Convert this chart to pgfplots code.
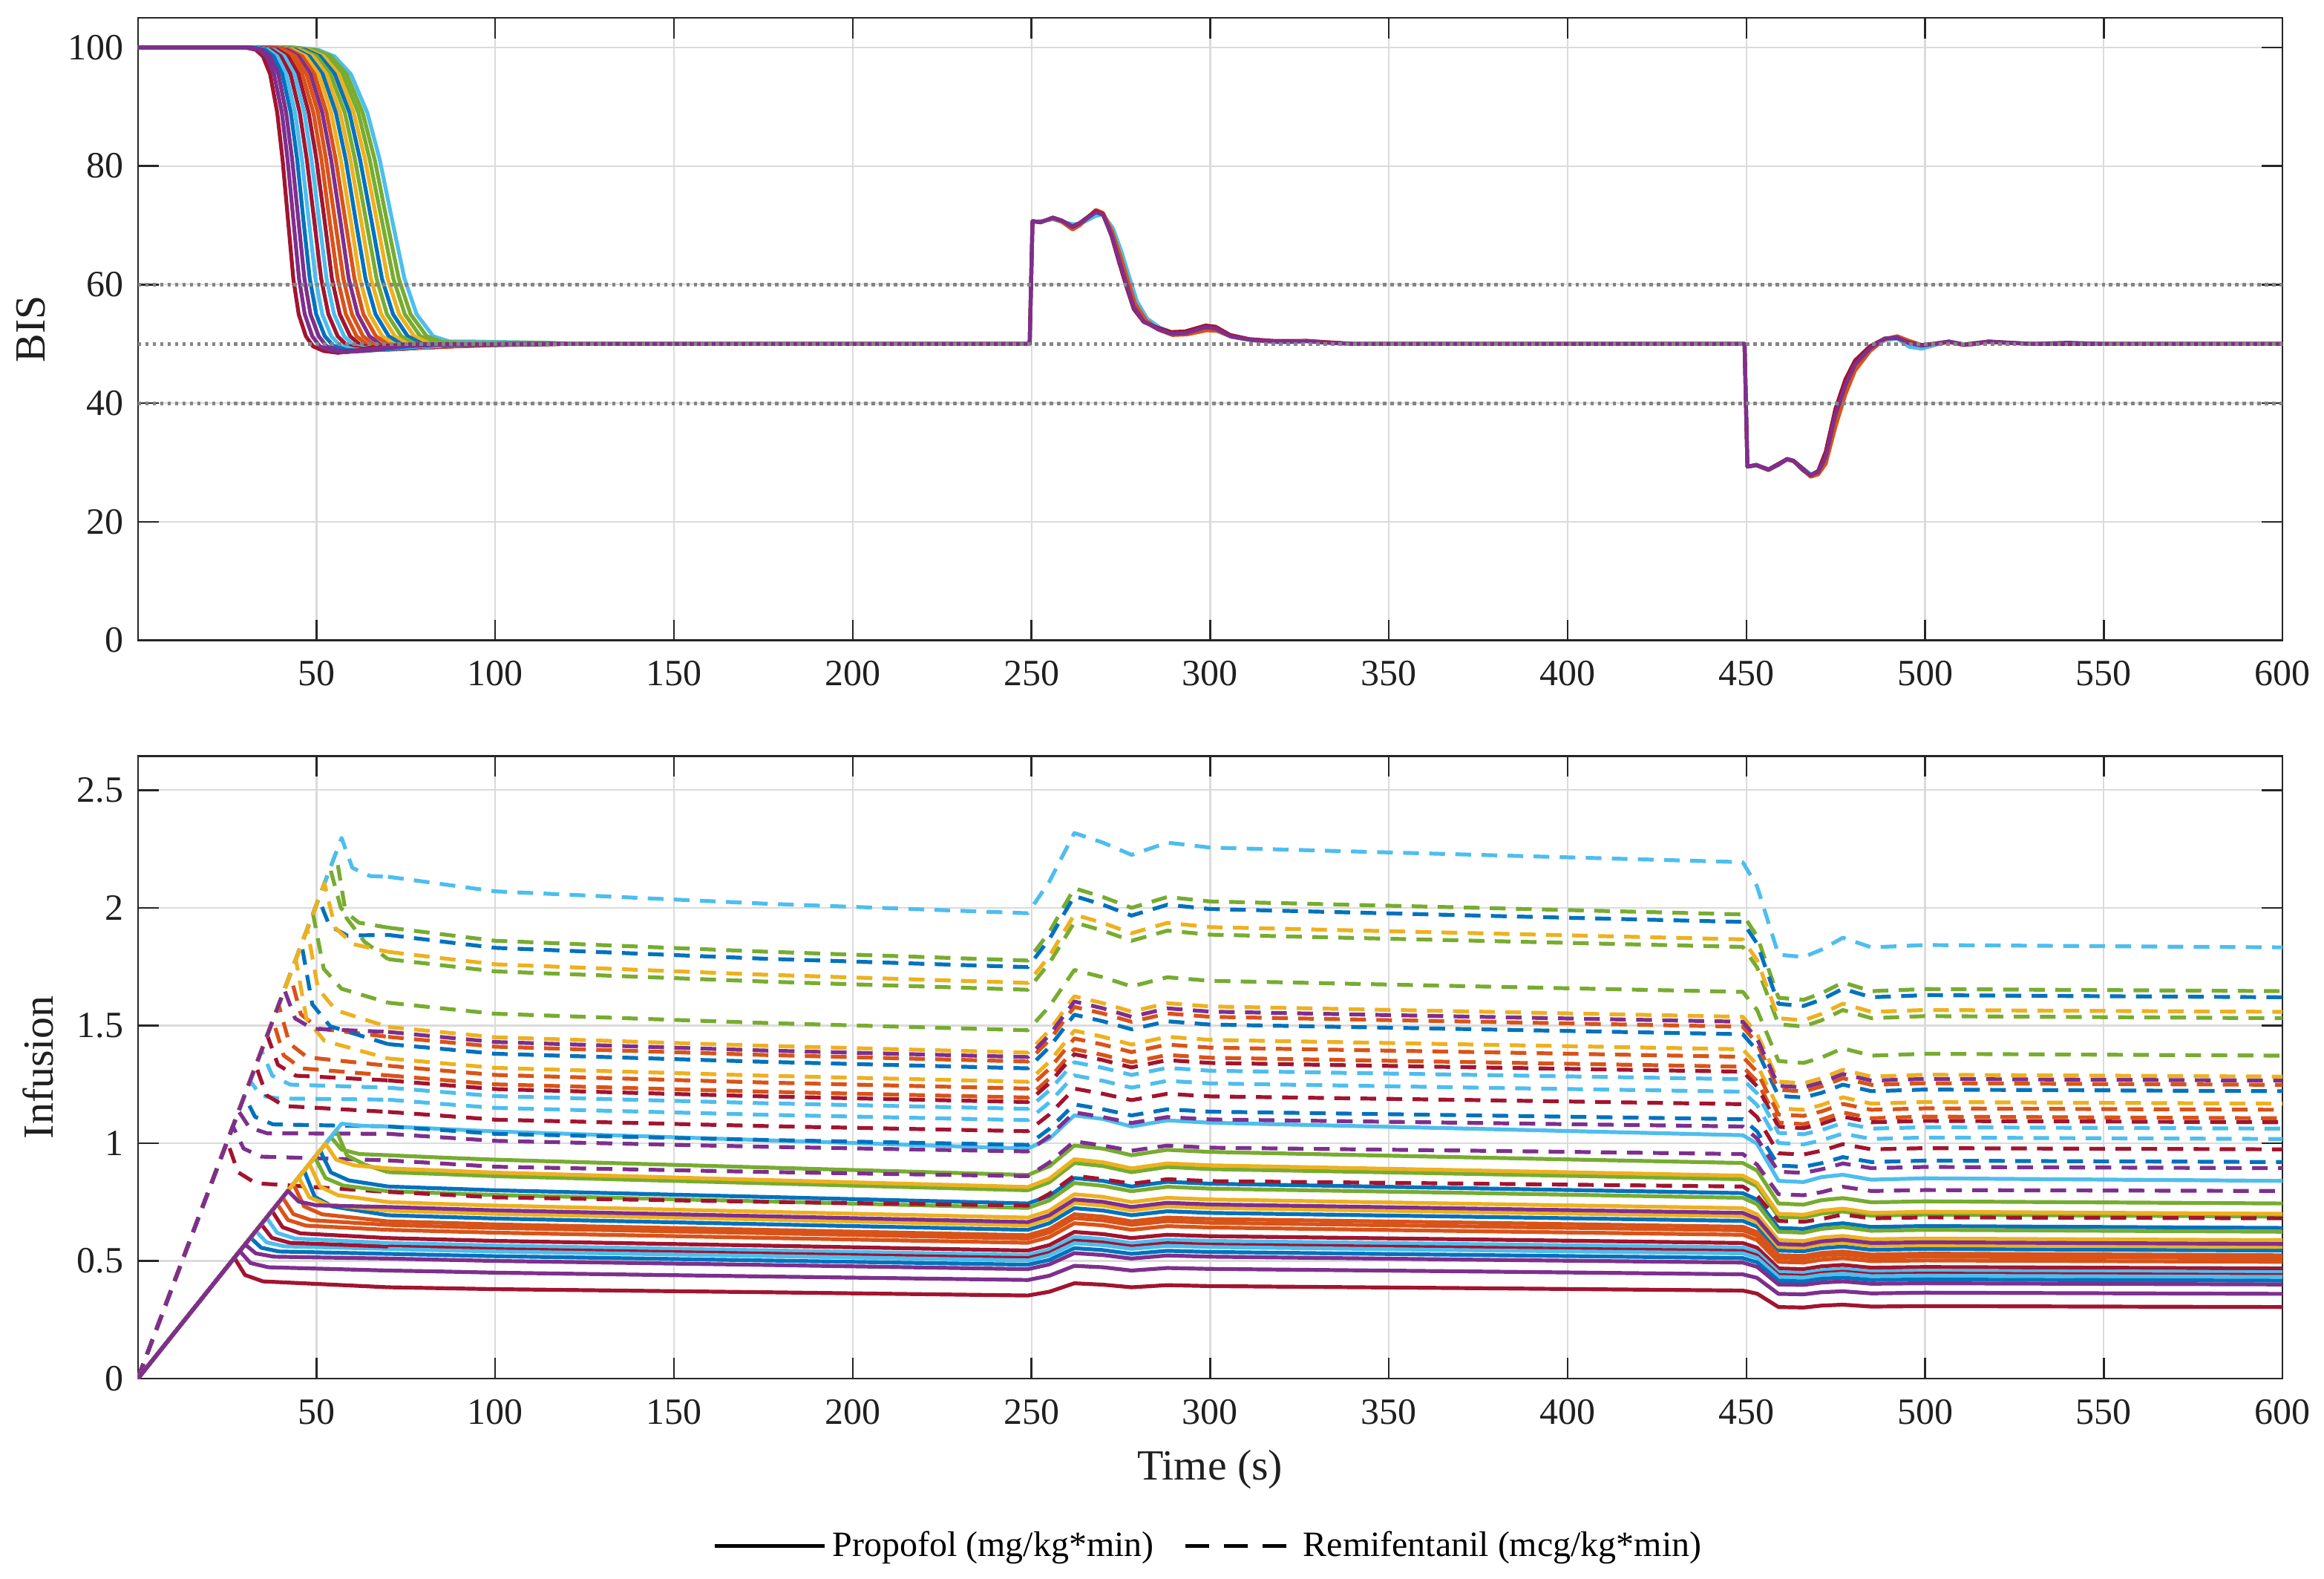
\documentclass[border=0pt]{standalone}
\usepackage{fontspec}
\setmainfont{Liberation Serif}
\usepackage{pgfplots}
\usepackage{pgfplotstable}
\pgfplotsset{compat=1.18}
\definecolor{mblue}{RGB}{0,114,189}
\definecolor{morange}{RGB}{217,83,25}
\definecolor{myellow}{RGB}{237,177,32}
\definecolor{mpurple}{RGB}{126,47,142}
\definecolor{mgreen}{RGB}{119,172,48}
\definecolor{mlblue}{RGB}{77,190,238}
\definecolor{mdred}{RGB}{162,20,47}
\colorlet{c1}{mdred}\colorlet{c2}{mpurple}\colorlet{c3}{mpurple}\colorlet{c4}{mblue}
\colorlet{c5}{mlblue}\colorlet{c6}{mdred}\colorlet{c7}{mlblue}\colorlet{c8}{mdred}
\colorlet{c9}{morange}\colorlet{c10}{morange}\colorlet{c11}{mpurple}\colorlet{c12}{morange}
\colorlet{c13}{myellow}\colorlet{c14}{mblue}\colorlet{c15}{myellow}\colorlet{c16}{mgreen}
\colorlet{c17}{mblue}\colorlet{c18}{myellow}\colorlet{c19}{mgreen}\colorlet{c20}{mgreen}
\colorlet{c21}{mlblue}

\pgfplotstableread{
t p1 p2 p3 p4 p5 p6 p7 p8 p9 p10 p11 p12 p13 p14 p15 p16 p17 p18 p19 p20 p21
70 0.388 0.459 0.510 0.530 0.551 0.561 0.576 0.597 0.632 0.653 0.729 0.668 0.714 0.694 0.750 0.796 0.816 0.893 0.949 0.877 1.071
85 0.384 0.455 0.505 0.525 0.545 0.556 0.571 0.591 0.626 0.646 0.722 0.662 0.707 0.687 0.742 0.788 0.808 0.884 0.939 0.869 1.061
100 0.380 0.450 0.500 0.520 0.540 0.550 0.565 0.585 0.620 0.640 0.715 0.655 0.700 0.680 0.735 0.780 0.800 0.875 0.930 0.860 1.050
175 0.367 0.434 0.483 0.502 0.521 0.531 0.545 0.565 0.598 0.618 0.690 0.632 0.676 0.656 0.709 0.753 0.772 0.844 0.897 0.830 1.013
249 0.353 0.419 0.465 0.484 0.502 0.512 0.525 0.544 0.577 0.595 0.665 0.609 0.651 0.632 0.684 0.725 0.744 0.814 0.865 0.800 0.977
255 0.369 0.437 0.485 0.504 0.524 0.534 0.548 0.567 0.601 0.621 0.694 0.635 0.679 0.660 0.713 0.757 0.776 0.849 0.902 0.834 1.019
262 0.405 0.479 0.533 0.554 0.575 0.586 0.602 0.623 0.660 0.682 0.761 0.698 0.746 0.724 0.783 0.831 0.852 0.932 0.990 0.916 1.118
270 0.399 0.473 0.525 0.546 0.567 0.578 0.593 0.614 0.651 0.672 0.751 0.688 0.735 0.714 0.772 0.819 0.840 0.919 0.977 0.903 1.103
278 0.388 0.459 0.510 0.530 0.551 0.561 0.576 0.597 0.632 0.653 0.729 0.668 0.714 0.694 0.750 0.796 0.816 0.893 0.949 0.877 1.071
288 0.397 0.470 0.523 0.543 0.564 0.575 0.590 0.611 0.648 0.669 0.747 0.684 0.732 0.711 0.768 0.815 0.836 0.914 0.972 0.899 1.097
300 0.393 0.466 0.518 0.538 0.559 0.569 0.585 0.605 0.642 0.662 0.740 0.678 0.725 0.704 0.761 0.807 0.828 0.906 0.963 0.890 1.087
375 0.384 0.455 0.505 0.525 0.545 0.556 0.571 0.591 0.626 0.646 0.722 0.662 0.707 0.687 0.742 0.788 0.808 0.884 0.939 0.869 1.061
449 0.374 0.443 0.493 0.512 0.532 0.542 0.557 0.576 0.611 0.630 0.704 0.645 0.690 0.670 0.724 0.768 0.788 0.862 0.916 0.847 1.034
453 0.361 0.428 0.475 0.494 0.513 0.523 0.537 0.556 0.589 0.608 0.679 0.622 0.665 0.646 0.698 0.741 0.760 0.831 0.884 0.817 0.998
459 0.304 0.360 0.400 0.416 0.432 0.440 0.452 0.468 0.496 0.512 0.572 0.524 0.560 0.544 0.588 0.624 0.640 0.700 0.744 0.688 0.840
466 0.302 0.358 0.398 0.413 0.429 0.437 0.449 0.465 0.493 0.509 0.568 0.521 0.557 0.541 0.584 0.620 0.636 0.696 0.739 0.684 0.835
471 0.310 0.367 0.408 0.424 0.440 0.448 0.460 0.477 0.505 0.522 0.583 0.534 0.571 0.554 0.599 0.636 0.652 0.713 0.758 0.701 0.856
477 0.314 0.371 0.413 0.429 0.446 0.454 0.466 0.483 0.512 0.528 0.590 0.540 0.578 0.561 0.606 0.644 0.660 0.722 0.767 0.710 0.866
485 0.306 0.362 0.403 0.419 0.435 0.443 0.455 0.471 0.499 0.515 0.576 0.527 0.564 0.547 0.592 0.628 0.644 0.704 0.749 0.692 0.845
500 0.308 0.365 0.405 0.421 0.437 0.446 0.458 0.474 0.502 0.518 0.579 0.531 0.567 0.551 0.595 0.632 0.648 0.709 0.753 0.697 0.851
600 0.304 0.360 0.400 0.416 0.432 0.440 0.452 0.468 0.496 0.512 0.572 0.524 0.560 0.544 0.588 0.624 0.640 0.700 0.744 0.688 0.840
}\prop

\pgfplotstableread{
t r1 r2 r3 r4 r5 r6 r7 r8 r9 r10 r11 r12 r13 r14 r15 r16 r17 r18 r19 r20 r21
70 0.793 0.927 1.040 1.071 1.185 1.133 1.236 1.267 1.288 1.329 1.473 1.452 1.360 1.421 1.494 1.597 1.885 1.813 1.916 1.782 2.132
85 0.782 0.914 1.025 1.056 1.167 1.117 1.218 1.248 1.269 1.309 1.451 1.431 1.340 1.401 1.472 1.573 1.857 1.786 1.888 1.756 2.101
100 0.770 0.900 1.010 1.040 1.150 1.100 1.200 1.230 1.250 1.290 1.430 1.410 1.320 1.380 1.450 1.550 1.830 1.760 1.860 1.730 2.070
175 0.751 0.878 0.985 1.014 1.121 1.073 1.170 1.199 1.219 1.258 1.394 1.375 1.287 1.346 1.414 1.511 1.784 1.716 1.814 1.687 2.018
249 0.735 0.860 0.965 0.993 1.098 1.051 1.146 1.175 1.194 1.232 1.366 1.347 1.261 1.318 1.385 1.480 1.748 1.681 1.776 1.652 1.977
255 0.785 0.918 1.030 1.061 1.173 1.122 1.224 1.255 1.275 1.316 1.459 1.438 1.346 1.408 1.479 1.581 1.867 1.795 1.897 1.765 2.111
262 0.862 1.008 1.131 1.165 1.288 1.232 1.344 1.378 1.400 1.445 1.602 1.579 1.478 1.546 1.624 1.736 2.050 1.971 2.083 1.938 2.318
270 0.847 0.990 1.111 1.144 1.265 1.210 1.320 1.353 1.375 1.419 1.573 1.551 1.452 1.518 1.595 1.705 2.013 1.936 2.046 1.903 2.277
278 0.828 0.968 1.086 1.118 1.236 1.183 1.290 1.322 1.344 1.387 1.537 1.516 1.419 1.484 1.559 1.666 1.967 1.892 2.000 1.860 2.225
288 0.847 0.990 1.111 1.144 1.265 1.210 1.320 1.353 1.375 1.419 1.573 1.551 1.452 1.518 1.595 1.705 2.013 1.936 2.046 1.903 2.277
300 0.839 0.981 1.101 1.134 1.254 1.199 1.308 1.341 1.363 1.406 1.559 1.537 1.439 1.504 1.581 1.690 1.995 1.918 2.027 1.886 2.256
375 0.828 0.968 1.086 1.118 1.236 1.183 1.290 1.322 1.344 1.387 1.537 1.516 1.419 1.484 1.559 1.666 1.967 1.892 2.000 1.860 2.225
449 0.816 0.954 1.071 1.102 1.219 1.166 1.272 1.304 1.325 1.367 1.516 1.495 1.399 1.463 1.537 1.643 1.940 1.866 1.972 1.834 2.194
453 0.778 0.909 1.020 1.050 1.162 1.111 1.212 1.242 1.263 1.303 1.444 1.424 1.333 1.394 1.465 1.566 1.848 1.778 1.879 1.747 2.091
459 0.670 0.783 0.879 0.905 1.001 0.957 1.044 1.070 1.088 1.122 1.244 1.227 1.148 1.201 1.262 1.349 1.592 1.531 1.618 1.505 1.801
466 0.666 0.779 0.874 0.900 0.995 0.952 1.038 1.064 1.081 1.116 1.237 1.220 1.142 1.194 1.254 1.341 1.583 1.522 1.609 1.496 1.791
471 0.678 0.792 0.889 0.915 1.012 0.968 1.056 1.082 1.100 1.135 1.258 1.241 1.162 1.214 1.276 1.364 1.610 1.549 1.637 1.522 1.822
477 0.697 0.815 0.914 0.941 1.041 0.996 1.086 1.113 1.131 1.167 1.294 1.276 1.195 1.249 1.312 1.403 1.656 1.593 1.683 1.566 1.873
485 0.681 0.797 0.894 0.920 1.018 0.974 1.062 1.089 1.106 1.142 1.266 1.248 1.168 1.221 1.283 1.372 1.620 1.558 1.646 1.531 1.832
500 0.685 0.801 0.899 0.926 1.024 0.979 1.068 1.095 1.113 1.148 1.273 1.255 1.175 1.228 1.291 1.380 1.629 1.566 1.655 1.540 1.842
600 0.681 0.797 0.894 0.920 1.018 0.974 1.062 1.089 1.106 1.142 1.266 1.248 1.168 1.221 1.283 1.372 1.620 1.558 1.646 1.531 1.832
}\remi

\pgfplotsset{
  common/.style={
    width=723.5pt, height=210pt, scale only axis,
    xmin=0, xmax=600, xtick={50,100,...,600},
    grid=major, major grid style={black!14, line width=0.55pt},
    axis line style={black!85, line width=0.6pt},
    tick style={black!85, line width=0.6pt},
    major tick length=7pt, tick align=inside,
    xtick pos=both, ytick pos=both,
    tick label style={font=\fontsize{12.5}{15}\selectfont, text=black!88},
    /pgf/number format/assume math mode=true,
    xticklabel shift=3.5pt, yticklabel shift=1.3pt,
    label style={font=\fontsize{14.5}{17}\selectfont, text=black!88},
  },
  pl/.style={forget plot, line width=1.3pt, line join=round},
  dsh/.style={dash pattern=on 5.3pt off 3.5pt},
  refl/.style={forget plot, black!48, line width=1.2pt, dash pattern=on 1.2pt off 1.3pt},
}

\begin{document}
\begin{tikzpicture}
% ---------------- TOP: BIS ----------------
\begin{axis}[common, at={(0,0)}, anchor=south west,
  ymin=0, ymax=105, ytick={0,20,...,100},
  ylabel={BIS}, ylabel style={at={(axis description cs:-0.0435,0.5)}, anchor=base},
]
\addplot[pl,c21] coordinates {(0,100)(43.5,100)(50.4,99.6)(55,98.5)(59.6,95.5)(64.2,89)(67.7,81)(71.1,71)(74.6,61)(78,55)(82.6,51.3)(87.2,50.4)(94.1,50.4)(103.3,50.3)(114.8,50.2)(120,50)};
\addplot[pl,c20] coordinates {(0,100)(42.8,100)(49.5,99.6)(54,98.5)(58.4,95.5)(62.9,89)(66.3,81)(69.6,71)(73,61)(76.3,55)(80.8,51.3)(85.3,50.3)(92,50.2)(100.9,50.2)(112.1,50.2)(120,50)};
\addplot[pl,c19] coordinates {(0,100)(42.2,100)(48.7,99.6)(53,98.5)(57.3,95.5)(61.7,89)(64.9,81)(68.2,71)(71.5,61)(74.7,55)(79,51.3)(83.4,50.2)(89.9,50.1)(98.6,50.1)(109.4,50.1)(120,50)};
\addplot[pl,c18] coordinates {(0,100)(41.5,100)(47.8,99.6)(52,98.5)(56.2,95.5)(60.4,89)(63.6,81)(66.8,71)(69.9,61)(73.1,55)(77.3,51.3)(81.5,50.1)(87.8,50)(96.2,50)(106.8,50)(120,50)};
\addplot[pl,c17] coordinates {(0,100)(40.8,100)(46.9,99.6)(51,98.5)(55.1,95.5)(59.2,89)(62.2,81)(65.3,71)(68.3,61)(71.4,55)(75.5,51.3)(79.6,50)(85.7,50)(93.8,49.9)(104,50)(120,50)};
\addplot[pl,c16] coordinates {(0,100)(40.1,100)(46,99.6)(50,98.5)(53.9,95.5)(57.9,89)(60.8,81)(63.8,71)(66.8,61)(69.7,55)(73.7,51.3)(77.6,50)(83.5,49.9)(91.5,49.85)(101.3,49.9)(113.2,50)(120,50)};
\addplot[pl,c15] coordinates {(0,100)(39.5,100)(45.2,99.6)(49,98.5)(52.8,95.5)(56.6,89)(59.5,81)(62.4,71)(65.2,61)(68.1,55)(71.9,51.3)(75.7,49.9)(81.5,49.8)(89.1,49.8)(98.7,49.8)(110.1,49.9)(120,50)};
\addplot[pl,c14] coordinates {(0,100)(38.8,100)(44.3,99.6)(48,98.5)(51.7,95.5)(55.4,89)(58.2,81)(60.9,71)(63.7,61)(66.5,55)(70.2,51.3)(73.9,49.9)(79.4,49.7)(86.8,49.7)(96,49.8)(107.1,49.9)(120,50)};
\addplot[pl,c13] coordinates {(0,100)(38.1,100)(43.4,99.6)(47,98.5)(50.6,95.5)(54.1,89)(56.8,81)(59.5,71)(62.1,61)(64.8,55)(68.4,51.3)(71.9,49.9)(77.3,49.7)(84.4,49.6)(93.3,49.7)(104,49.9)(120,50)};
\addplot[pl,c12] coordinates {(0,100)(37.4,100)(42.5,99.6)(46,98.5)(49.4,95.5)(52.8,89)(55.4,81)(58,71)(60.6,61)(63.1,55)(66.6,51.3)(70,49.9)(75.1,49.6)(82,49.5)(90.6,49.6)(100.9,49.8)(120,50)};
\addplot[pl,c11] coordinates {(0,100)(36.8,100)(41.7,99.6)(45,98.5)(48.3,95.5)(51.6,89)(54.1,81)(56.6,71)(59,61)(61.5,55)(64.8,51.3)(68.1,49.8)(73.1,49.5)(79.7,49.4)(87.9,49.6)(97.8,49.8)(120,50)};
\addplot[pl,c10] coordinates {(0,100)(36.1,100)(40.9,99.6)(44,98.5)(47.2,95.5)(50.4,89)(52.7,81)(55.1,71)(57.5,61)(59.9,55)(63,51.3)(66.2,49.8)(71,49.4)(77.3,49.3)(85.2,49.5)(94.7,49.8)(107.4,50)(120,50)};
\addplot[pl,c9] coordinates {(0,100)(35.4,100)(40,99.6)(43,98.5)(46,95.5)(49.1,89)(51.4,81)(53.6,71)(55.9,61)(58.2,55)(61.2,51.3)(64.3,49.8)(68.8,49.4)(74.9,49.2)(82.5,49.4)(91.6,49.7)(103.8,49.9)(120,50)};
\addplot[pl,c8] coordinates {(0,100)(34.7,100)(39.1,99.6)(42,98.5)(44.9,95.5)(47.8,89)(50,81)(52.2,71)(54.3,61)(56.5,55)(59.4,51.3)(62.3,49.8)(66.7,49.3)(72.5,49.1)(79.8,49.4)(88.5,49.7)(100.2,49.9)(120,50)};
\addplot[pl,c7] coordinates {(0,100)(34.1,100)(38.2,99.6)(41,98.5)(43.8,95.5)(46.6,89)(48.6,81)(50.7,71)(52.8,61)(54.9,55)(57.7,51.3)(60.5,49.7)(64.6,49.2)(70.2,49)(77.1,49.3)(85.5,49.7)(96.6,49.9)(120,50)};
\addplot[pl,c6] coordinates {(0,100)(33.4,100)(37.4,99.6)(40,98.5)(42.7,95.5)(45.3,89)(47.3,81)(49.3,71)(51.3,61)(53.3,55)(55.9,51.3)(58.6,49.7)(62.6,49.2)(67.9,49)(74.5,49.2)(82.4,49.7)(93,49.9)(120,50)};
\addplot[pl,c5] coordinates {(0,100)(32.7,100)(36.5,99.6)(39,98.5)(41.5,95.5)(44,89)(45.9,81)(47.8,71)(49.7,61)(51.6,55)(54.1,51.3)(56.6,49.7)(60.4,49.1)(65.5,48.9)(71.8,49.2)(79.3,49.6)(89.4,49.9)(120,50)};
\addplot[pl,c4] coordinates {(0,100)(32,100)(35.6,99.6)(38,98.5)(40.4,95.5)(42.8,89)(44.6,81)(46.3,71)(48.1,61)(49.9,55)(52.3,51.3)(54.7,49.7)(58.3,49)(63.1,48.8)(69,49.1)(76.2,49.6)(85.8,49.9)(120,50)};
\addplot[pl,c3] coordinates {(0,100)(31.4,100)(34.7,99.6)(37,98.5)(39.3,95.5)(41.5,89)(43.2,81)(44.9,71)(46.6,61)(48.3,55)(50.6,51.3)(52.8,49.6)(56.2,48.9)(60.7,48.7)(66.4,49)(73.2,49.6)(82.2,49.9)(120,50)};
\addplot[pl,c1] coordinates {(0,100)(30,100)(33,99.6)(35,98.5)(37,95.5)(39,89)(40.5,81)(42,71)(43.5,61)(45,55)(47,51.3)(49,49.6)(52,48.8)(56,48.5)(61,48.9)(67,49.5)(75,49.9)(120,50)};
\addplot[pl,c2] coordinates {(0,100)(30.7,100)(33.9,99.6)(36,98.5)(38.1,95.5)(40.3,89)(41.9,81)(43.5,71)(45.1,61)(46.7,55)(48.8,51.3)(50.9,49.6)(54.1,48.9)(58.4,48.6)(63.7,49)(70.1,49.5)(78.6,49.9)(120,50)};
% later phase
\addplot[pl,mlblue] coordinates {(120,50)(249.5,50)(250.3,70.6)(252.5,70.7)(256,71.0)(258.5,70.6)(261.5,70.2)(263.5,70.2)(268,71.6)(270,71.8)(272.8,69.5)(275.2,65.5)(277.4,61.2)(279.5,57.2)(282.3,54.3)(286,52.7)(290,51.8)(294,51.9)(299,52.4)(302,52.2)(306,51.2)(312,50.6)(319,50.3)(327,50.4)(340,50)(449.5,50)(450.3,29.3)(452.8,29.5)(456.2,28.9)(461.4,30.5)(463.2,30.3)(468,28.0)(470.1,28.5)(472.2,31.0)(474.9,38.3)(477.7,43.4)(480.4,46.8)(484.6,49.3)(488.7,50.6)(492.2,50.9)(495.6,49.5)(499.1,49.2)(503.3,49.9)(506.7,50.4)(510.8,49.9)(517.8,50.4)(530,50)(600,50)};
\addplot[pl,morange] coordinates {(120,50)(249.5,50)(250.3,70.7)(252.5,70.5)(256,71.2)(258.5,70.6)(261.5,69.3)(263.5,70.0)(268,72.6)(270,72.1)(272.6,68.9)(275,64.6)(277,60.6)(279,56.8)(282,54.0)(285.5,52.4)(289.5,51.5)(293.5,51.6)(299,52.3)(302,52.2)(306,51.2)(312,50.6)(319,50.3)(327,50.5)(340,50)(449.5,50)(450.3,29.3)(452.8,29.5)(456.2,28.7)(461.4,30.5)(463.2,30.2)(468,27.6)(470.1,28.0)(472.2,29.8)(474.9,36)(477.7,41.5)(480.4,45.5)(484.6,48.8)(488.7,50.8)(492.2,51.3)(495.6,50.5)(499.1,49.8)(503.3,50.0)(506.7,50.3)(510.8,49.8)(517.8,50.3)(530,50)(600,50)};
\addplot[pl,mdred] coordinates {(120,50)(249.5,50)(250.3,70.7)(252.5,70.5)(256,71.3)(258.5,70.8)(261.5,69.8)(263.5,70.4)(268,72.4)(270,71.9)(272.4,68.2)(274.5,63.8)(276.6,59.6)(278.6,55.9)(281.4,53.7)(285,52.8)(289,52.0)(293,52.1)(298.7,53.1)(301.5,52.9)(305.6,51.5)(311,50.8)(318,50.5)(327,50.5)(340,50)(449.5,50)(450.3,29.3)(452.8,29.6)(456.2,28.8)(461.4,30.6)(463.2,30.3)(468,27.8)(470.1,28.6)(472.2,31.8)(474.9,39)(477.7,44)(480.4,47.2)(484.6,49.6)(488.7,50.9)(492.2,51.0)(495.6,50.2)(499.1,49.8)(503.3,50.1)(506.7,50.4)(510.8,49.9)(517.8,50.4)(530,50)(600,50)};
\addplot[pl,mpurple] coordinates {(120,50)(249.5,50)(250.3,70.7)(252.5,70.5)(256,71.3)(258.5,70.8)(261.5,69.7)(263.5,70.3)(268,72.2)(270,71.8)(272.4,68.4)(274.5,64.2)(276.6,60.1)(278.6,56.3)(281.4,53.8)(285,52.6)(289,51.7)(293,51.8)(298.7,52.8)(301.5,52.6)(305.6,51.3)(311,50.7)(318,50.4)(322,50.3)(327,50.5)(332,50.2)(340,50)(449.5,50)(450.3,29.3)(452.8,29.6)(456.2,28.8)(459,29.6)(461.4,30.6)(463.2,30.3)(466,28.6)(468,27.9)(470.1,28.4)(472.2,30.9)(474.9,38)(477.7,43)(480.4,46.5)(484.6,49.25)(488.7,50.9)(492.2,51.1)(495.6,50.1)(499.1,49.7)(503.3,50.1)(506.7,50.4)(510.8,49.9)(513,49.9)(517.8,50.4)(522,50.2)(530,50)(540,50.2)(550,50)(600,50)};
% reference levels
\addplot[refl] coordinates {(0,60)(600,60)};
\addplot[refl] coordinates {(0,50)(600,50)};
\addplot[refl] coordinates {(0,40)(600,40)};
\end{axis}

% ---------------- BOTTOM: Infusion ----------------
\begin{axis}[common, at={(0,-39pt)}, anchor=north west,
  ymin=0, ymax=2.645, ytick={0,0.5,...,2.5},
  ylabel={Infusion}, ylabel style={at={(axis description cs:-0.0394,0.5)}, anchor=base},
  xlabel={Time (s)}, xlabel style={at={(axis description cs:0.5,-0.163)}, anchor=base},
  legend style={at={(0.5,-0.269)}, anchor=center, draw=none, fill=none,
    font=\fontsize{12}{14}\selectfont, text=black,
    /tikz/every even column/.append style={column sep=8pt}},
  legend columns=2,
  legend image code/.code={\draw[#1] (0pt,0pt) -- (37pt,0pt);},
]
\addlegendimage{black, line width=1.4pt}
\addlegendentry{Propofol (mg/kg*min)}
\addlegendimage{black, line width=1.4pt, dash pattern=on 8pt off 5pt}
\addlegendentry{Remifentanil (mcg/kg*min)}

\pgfplotsinvokeforeach{21,20,...,3,1,2}{
  \addplot[pl, c#1, dsh] table[x=t, y=r#1]{\remi};
  \addplot[pl, c#1] table[x=t, y=p#1]{\prop};
}
% remifentanil induction (dashed)
\addplot[pl,c1,dsh] coordinates {(0,0)(25,1.008)(28,0.877)(33,0.830)(70,0.793)};
\addplot[pl,c4,dsh] coordinates {(0,0)(29.8,1.201)(32.8,1.112)(37.8,1.080)(70,1.071)};
\addplot[pl,c5,dsh] coordinates {(0,0)(31.4,1.265)(34.4,1.202)(39.4,1.19)(70,1.185)};
\addplot[pl,c6,dsh] coordinates {(0,0)(33,1.330)(36,1.204)(41,1.158)(70,1.133)};
\addplot[pl,c7,dsh] coordinates {(0,0)(34.6,1.394)(37.6,1.287)(42.6,1.249)(70,1.236)};
\addplot[pl,c8,dsh] coordinates {(0,0)(36.2,1.459)(39.2,1.333)(44.2,1.287)(70,1.267)};
\addplot[pl,c9,dsh] coordinates {(0,0)(37.8,1.523)(40.8,1.373)(45.8,1.318)(70,1.288)};
\addplot[pl,c10,dsh] coordinates {(0,0)(39.4,1.588)(42.4,1.424)(47.4,1.365)(70,1.329)};
\addplot[pl,c12,dsh] coordinates {(0,0)(42.6,1.717)(45.6,1.548)(50.6,1.487)(70,1.452)};
\addplot[pl,c14,dsh] coordinates {(0,0)(45.8,1.846)(48.8,1.590)(53.8,1.497)(70,1.421)};
\addplot[pl,c16,dsh] coordinates {(0,0)(49,1.975)(52,1.741)(57,1.656)(70,1.597)};
\addplot[pl,c17,dsh] coordinates {(0,0)(50.6,2.039)(53.6,1.924)(58.6,1.882)(70,1.885)};
\addplot[pl,c19,dsh] coordinates {(0,0)(53.8,2.168)(56.8,1.999)(61.8,1.937)(70,1.916)};
\addplot[pl,c20,dsh] coordinates {(0,0)(55.4,2.233)(58.4,1.956)(63.4,1.856)(70,1.782)};
\addplot[pl,c21,dsh] coordinates {(0,0)(57,2.297)(60,2.17)(65,2.135)(70,2.132)};
\addplot[pl,c13,dsh] coordinates {(0,0)(44.2,1.781)(47.2,1.527)(52.2,1.435)(70,1.360)};
\addplot[pl,c15,dsh] coordinates {(0,0)(47.4,1.910)(50.4,1.657)(55.4,1.565)(70,1.494)};
\addplot[pl,c18,dsh] coordinates {(0,0)(52.2,2.104)(55.2,1.915)(60.2,1.846)(70,1.813)};
\addplot[pl,c3,dsh] coordinates {(0,0)(28.2,1.136)(31.2,1.067)(36.2,1.042)(70,1.040)};
\addplot[pl,c2,dsh] coordinates {(0,0)(26.6,1.072)(29.6,0.977)(34.6,0.943)(70,0.927)};
\addplot[pl,c11,dsh] coordinates {(0,0)(41,1.652)(44,1.530)(49,1.486)(70,1.473)};
% propofol induction (solid)
\addplot[pl,c1] coordinates {(0,0)(27,0.513)(30,0.44)(35,0.413)(70,0.388)};
\addplot[pl,c4] coordinates {(0,0)(31.5,0.599)(34.5,0.556)(39.5,0.540)(70,0.530)};
\addplot[pl,c5] coordinates {(0,0)(33,0.627)(36,0.579)(41,0.562)(70,0.551)};
\addplot[pl,c6] coordinates {(0,0)(34.5,0.656)(37.5,0.598)(42.5,0.577)(70,0.561)};
\addplot[pl,c7] coordinates {(0,0)(36,0.684)(39,0.619)(44,0.595)(70,0.576)};
\addplot[pl,c8] coordinates {(0,0)(37.5,0.713)(40.5,0.643)(45.5,0.617)(70,0.597)};
\addplot[pl,c9] coordinates {(0,0)(39,0.741)(42,0.674)(47,0.650)(70,0.632)};
\addplot[pl,c10] coordinates {(0,0)(40.5,0.770)(43.5,0.699)(48.5,0.673)(70,0.653)};
\addplot[pl,c12] coordinates {(0,0)(43.5,0.827)(46.5,0.732)(51.5,0.698)(70,0.668)};
\addplot[pl,c14] coordinates {(0,0)(46.5,0.884)(49.5,0.772)(54.5,0.731)(70,0.694)};
\addplot[pl,c16] coordinates {(0,0)(49.5,0.941)(52.5,0.852)(57.5,0.820)(70,0.796)};
\addplot[pl,c17] coordinates {(0,0)(51,0.969)(54,0.876)(59,0.842)(70,0.816)};
\addplot[pl,c19] coordinates {(0,0)(54,1.026)(57,0.973)(62,0.954)(70,0.949)};
\addplot[pl,c20] coordinates {(0,0)(55.5,1.055)(58.5,0.948)(63.5,0.909)(70,0.877)};
\addplot[pl,c21] coordinates {(0,0)(57,1.083)(62,1.075)(66,1.072)(70,1.071)};
\addplot[pl,c13] coordinates {(0,0)(45,0.855)(48,0.770)(53,0.739)(70,0.714)};
\addplot[pl,c15] coordinates {(0,0)(48,0.912)(51,0.815)(56,0.779)(70,0.750)};
\addplot[pl,c18] coordinates {(0,0)(52.5,0.998)(55.5,0.930)(60.5,0.906)(70,0.893)};
\addplot[pl,c3] coordinates {(0,0)(30,0.570)(33,0.532)(38,0.518)(70,0.510)};
\addplot[pl,c2] coordinates {(0,0)(28.5,0.542)(31.5,0.491)(36.5,0.473)(70,0.459)};
\addplot[pl,c11] coordinates {(0,0)(42,0.798)(45,0.752)(50,0.736)(70,0.729)};
\end{axis}
\pgfresetboundingbox
\path[use as bounding box] (-46.5pt,-316.5pt) rectangle (737.5pt,216pt);
\end{tikzpicture}
\end{document}
